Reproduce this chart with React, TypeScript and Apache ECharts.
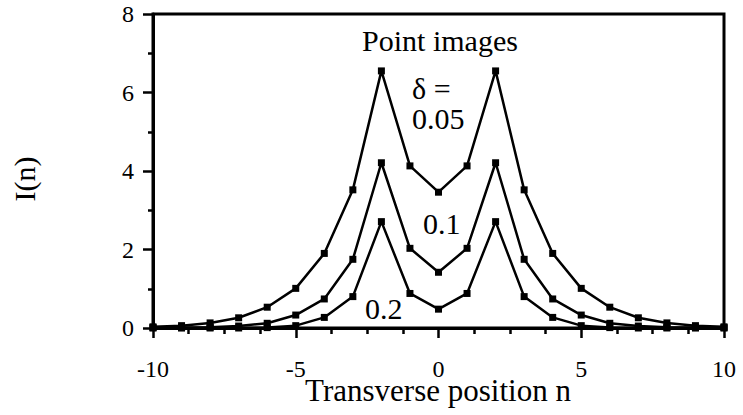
import React, { useEffect, useRef } from "react";
import * as echarts from "echarts";

const positions = [-10, -9, -8, -7, -6, -5, -4, -3, -2, -1, 0, 1, 2, 3, 4, 5, 6, 7, 8, 9, 10];
const delta005 = [0.03, 0.06, 0.13, 0.26, 0.53, 1.01, 1.9, 3.52, 6.55, 4.13, 3.46, 4.13, 6.55, 3.52, 1.9, 1.01, 0.53, 0.26, 0.13, 0.06, 0.03];
const delta01 = [0.01, 0.01, 0.02, 0.05, 0.12, 0.33, 0.74, 1.75, 4.21, 2.03, 1.42, 2.03, 4.21, 1.75, 0.74, 0.33, 0.12, 0.05, 0.02, 0.01, 0.01];
const delta02 = [0, 0, 0, 0, 0.01, 0.06, 0.27, 0.8, 2.71, 0.88, 0.48, 0.88, 2.71, 0.8, 0.27, 0.06, 0.01, 0, 0, 0, 0];
const seriesNames = ["δ = 0.05", "δ = 0.1", "δ = 0.2"];

const FONT = "Liberation Serif";

const txt = (text: string, x: number, y: number, align: string, size = 30, extra: any = {}) => ({
  type: "text",
  x,
  y,
  ...extra,
  style: {
    text,
    fontFamily: FONT,
    fontSize: size,
    fill: "#000",
    align,
    verticalAlign: "middle",
  },
});

export default function App() {
  const ref = useRef<HTMLDivElement>(null);
  useEffect(() => {
    if (!ref.current) return;
    const chart = echarts.init(ref.current, null, { renderer: "svg" });
    const mk = (name: string, vals: number[]) => ({
      name,
      type: "line",
      data: positions.map((p, i) => [p, vals[i]]),
      symbol: "rect",
      symbolSize: 7,
      showSymbol: true,
      lineStyle: { color: "#000", width: 2.5 },
      itemStyle: { color: "#000" },
      z: 3,
    });
    chart.setOption({
      animation: false,
      backgroundColor: "#fff",
      textStyle: { fontFamily: FONT },
      grid: {
        left: 153,
        right: 19,
        top: 14,
        bottom: 87,
        containLabel: false,
        outerBoundsMode: "none",
        show: true,
        borderColor: "#000",
        borderWidth: 3,
      },
      xAxis: {
        type: "value",
        min: -10,
        max: 10,
        interval: 5,
        axisLine: { show: true, onZero: false, lineStyle: { color: "#000", width: 3 } },
        axisTick: { show: true, inside: false, length: 10, lineStyle: { color: "#000", width: 2.5 } },
        minorTick: { show: true, splitNumber: 4, length: 6, lineStyle: { color: "#000", width: 2.5 } },
        splitLine: { show: false },
        axisLabel: { fontFamily: FONT, fontSize: 24, color: "#000", margin: 29 },
      },
      yAxis: {
        type: "value",
        min: 0,
        max: 8,
        interval: 2,
        axisLine: { show: true, onZero: false, lineStyle: { color: "#000", width: 3 } },
        axisTick: { show: true, inside: false, length: 10, lineStyle: { color: "#000", width: 2.5 } },
        minorTick: { show: true, splitNumber: 2, length: 5, lineStyle: { color: "#000", width: 2.5 } },
        splitLine: { show: false },
        axisLabel: { fontFamily: FONT, fontSize: 24, color: "#000", margin: 19 },
      },
      series: [mk(seriesNames[0], delta005), mk(seriesNames[1], delta01), mk(seriesNames[2], delta02)],
      graphic: [
        txt("Transverse position n", 438, 390, "center", 31),
        txt("I(n)", 24, 179, "center", 30, { rotation: Math.PI / 2 }),
        txt("Point images", 440, 40, "center"),
        txt("δ =", 412, 88, "left"),
        txt("0.05", 412, 118, "left"),
        txt("0.1", 423, 223, "left"),
        txt("0.2", 365, 308, "left"),
      ],
    });
    return () => chart.dispose();
  }, []);
  return (
    <div
      ref={ref}
      style={{ position: "fixed", left: 0, top: 0, width: 743, height: 415, background: "#fff" }}
    />
  );
}
